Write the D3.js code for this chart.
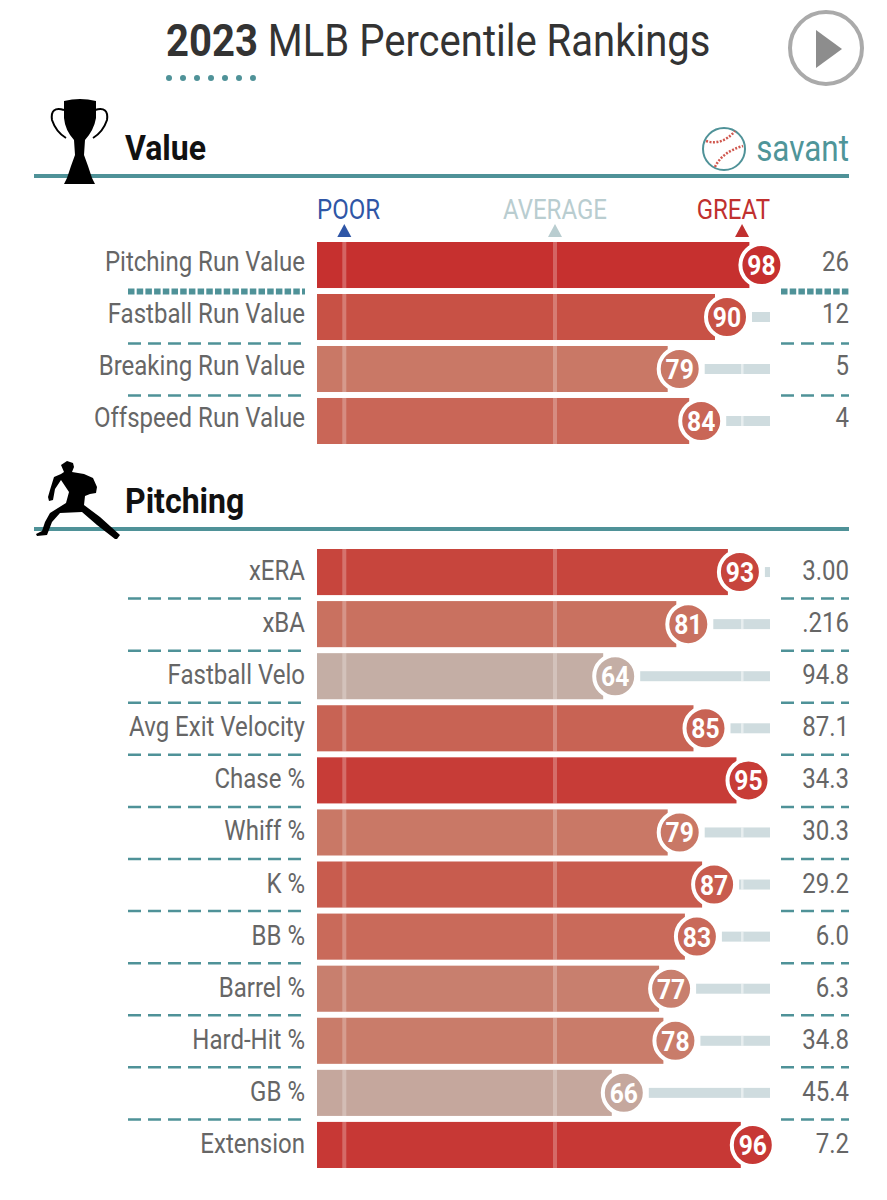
<!DOCTYPE html>
<html>
<head>
  <meta charset="utf-8">
  <title>2023 MLB Percentile Rankings</title>
  <script src="https://d3js.org/d3.v7.min.js"></script>
  <style>
    body { margin: 0; background: #fff; }
    text { font-family: Roboto, sans-serif; }
  </style>
</head>
<body>
  <svg id="chart" width="887" height="1200"></svg>
  <script>
    // value section
    const valueLabels = ["Pitching Run Value", "Fastball Run Value", "Breaking Run Value", "Offspeed Run Value"];
    const valuePercentiles = [98, 90, 79, 84];
    const valueStats = ["26", "12", "5", "4"];

    // pitching section
    const pitchingLabels = ["xERA", "xBA", "Fastball Velo", "Avg Exit Velocity", "Chase %", "Whiff %", "K %", "BB %", "Barrel %", "Hard-Hit %", "GB %", "Extension"];
    const pitchingPercentiles = [93, 81, 64, 85, 95, 79, 87, 83, 77, 78, 66, 96];
    const pitchingStats = ["3.00", ".216", "94.8", "87.1", "34.3", "30.3", "29.2", "6.0", "6.3", "34.8", "45.4", "7.2"];

    // header markers
    const markerLabels = ["POOR", "AVERAGE", "GREAT"];
    const markerValues = [1, 50, 93.5];
    const markerColors = ["#2f56a6", "#b9cdd0", "#c0302f"];

    const teal = "#4f9298";
    const grey = "#666";

    const svg = d3.select("#chart");

    // percentile -> pixel, circles sit right on this scale
    const x = d3.scaleLinear().domain([0, 100]).range([340, 770]);
    const barLeft = 317;

    const colorScale = d3.scaleLinear()
      .domain([64, 79, 90, 98])
      .range(["#c4aea5", "#c97866", "#c85145", "#c6302f"]);

    // roboto has no condensed cut here so squeeze it
    function label(g, str, px, py, size, opts = {}) {
      return g.append("text")
        .attr("transform", `translate(${px},${py}) scale(${opts.squeeze || 0.89},1)`)
        .attr("text-anchor", opts.anchor || "end")
        .attr("font-size", size)
        .attr("font-weight", opts.weight || 400)
        .attr("fill", opts.fill || grey)
        .text(str);
    }

    // title
    const title = svg.append("g");
    const titleText = label(title, "", 166, 56, 45, { anchor: "start", fill: "#333" });
    titleText.append("tspan").attr("font-weight", 700).text("2023");
    titleText.append("tspan").text(" MLB Percentile Rankings");

    title.selectAll("circle")
      .data(d3.range(7))
      .join("circle")
      .attr("cx", i => 169 + i * 14)
      .attr("cy", 78)
      .attr("r", 3)
      .attr("fill", teal);

    // play button
    svg.append("circle").attr("cx", 826).attr("cy", 48).attr("r", 36)
      .attr("fill", "none").attr("stroke", "#aaa").attr("stroke-width", 4);
    svg.append("path").attr("d", "M816,30 L842,49 L816,68 Z").attr("fill", "#8d8d8d");

    // section headers
    function sectionHeader(name, lineY) {
      const g = svg.append("g");
      g.append("line").attr("x1", 34).attr("x2", 849).attr("y1", lineY).attr("y2", lineY)
        .attr("stroke", teal).attr("stroke-width", 4);
      label(g, name, 125, lineY - 16, 36, { anchor: "start", weight: 700, fill: "#111" });
    }
    sectionHeader("Value", 176);
    sectionHeader("Pitching", 529);

    // trophy
    const trophy = svg.append("g");
    trophy.append("path")
      .attr("d", "M64,101 Q80,97 96,101 L96,118 Q94,130 85,140 L84,155 L88,166 L92,178 L95,184 L64,184 L67,178 L71,166 L75,155 L74,140 Q65,130 64,118 Z")
      .attr("fill", "#000");
    trophy.append("path")
      .attr("d", "M64,110 Q50,106 52,120 Q56,132 66,138 M95,110 Q109,106 107,120 Q103,132 93,138")
      .attr("fill", "none").attr("stroke", "#000").attr("stroke-width", 2);

    // pitcher
    svg.append("path")
      .attr("d", "M61,465 L67,461 L73,463 L74,467 L72,472 L84,474 L93,478 L97,487 L96,493 L90,494 L85,496 L84,505 L100,517 L120,535 L117,539 L115,539 L97,525 L82,512 L60,513 L52,522 L47,535 L37,536 L36,534 L42,531 L45,522 L50,513 L66,503 L69,492 L61,480 L55,489 L53,500 L49,501 L48,497 L50,490 L54,477 L61,474 L64,472 Z")
      .attr("fill", "#000");

    // savant logo
    const logo = svg.append("g");
    logo.append("circle").attr("cx", 724).attr("cy", 149).attr("r", 21)
      .attr("fill", "#fff").attr("stroke", teal).attr("stroke-width", 2);
    logo.append("path").attr("d", "M706,141 Q722,146 735,131")
      .attr("fill", "none").attr("stroke", "#d0574e").attr("stroke-width", 2.5).attr("stroke-dasharray", "2 1.5");
    logo.append("path").attr("d", "M715,167 Q722,152 743,146")
      .attr("fill", "none").attr("stroke", "#d0574e").attr("stroke-width", 2.5).attr("stroke-dasharray", "2 1.5");
    label(svg, "savant", 849, 161, 37, { fill: "#4f9599", squeeze: 0.85 });

    // markers above the first bar
    const markers = svg.append("g");
    markerLabels.forEach((m, i) => {
      const cx = x(markerValues[i]);
      label(markers, m, i === 0 ? 317 : i === 1 ? cx : 770, 219, 27, {
        anchor: i === 0 ? "start" : i === 1 ? "middle" : "end",
        fill: markerColors[i]
      });
      markers.append("path")
        .attr("d", `M${cx - 7},237 L${cx},224 L${cx + 7},237 Z`)
        .attr("fill", markerColors[i]);
    });

    // one block of bars
    function section(labels, percentiles, stats, top, bottom, solidFirst, textDrop) {
      const y = d3.scaleBand()
        .domain(labels)
        .range([top, bottom])
        .paddingInner(0.115)
        .paddingOuter(0);
      const rows = svg.append("g").selectAll("g")
        .data(labels)
        .join("g");

      rows.each(function (d, i) {
        const g = d3.select(this);
        const p = percentiles[i];
        const y0 = y(d), h = y.bandwidth(), mid = y0 + h / 2;
        const cx = x(p);

        // track to the right of the circle
        g.append("rect").attr("x", cx + 25).attr("y", mid - 5)
          .attr("width", Math.max(0, x(100) - cx - 25)).attr("height", 10)
          .attr("fill", "#cfdcdf");
        g.append("rect").attr("x", barLeft).attr("y", y0)
          .attr("width", cx - 12 - barLeft).attr("height", h)
          .attr("fill", colorScale(p));

        // percentile guides, the top one only shows on the track
        markerValues.forEach(v => {
          if (v < 90) {
            g.append("rect").attr("x", x(v) - 2).attr("y", y0)
              .attr("width", 4).attr("height", h)
              .attr("fill", "#fff").attr("opacity", 0.25);
          } else if (x(v) > cx + 25) {
            g.append("rect").attr("x", x(v) - 1).attr("y", mid - 5)
              .attr("width", 2.5).attr("height", 10)
              .attr("fill", "#fff").attr("opacity", 0.5);
          }
        });

        g.append("circle").attr("cx", cx).attr("cy", mid).attr("r", 21)
          .attr("fill", colorScale(p)).attr("stroke", "#fff").attr("stroke-width", 4);
        label(g, p, cx, mid + 10, 28, { anchor: "middle", weight: 700, fill: "#fff", squeeze: 0.88 });

        label(g, d, 305, mid + textDrop, 27);
        label(g, stats[i], 849, mid + textDrop, 27);

        // separators
        if (i < labels.length - 1) {
          const heavy = solidFirst && i === 0;
          [[128, 305], [781, 849]].forEach(([a, b]) => {
            g.append("line").attr("x1", a).attr("x2", b)
              .attr("y1", y0 + h + 3.5).attr("y2", y0 + h + 3.5)
              .attr("stroke", teal)
              .attr("stroke-width", heavy ? 6 : 2.5)
              .attr("stroke-dasharray", heavy ? "6.5 2.2" : "13 7");
          });
        }
      });
    }

    section(valueLabels, valuePercentiles, valueStats, 242, 444, true, 6);
    section(pitchingLabels, pitchingPercentiles, pitchingStats, 549, 1168, false, 8);
  </script>
</body>
</html>
